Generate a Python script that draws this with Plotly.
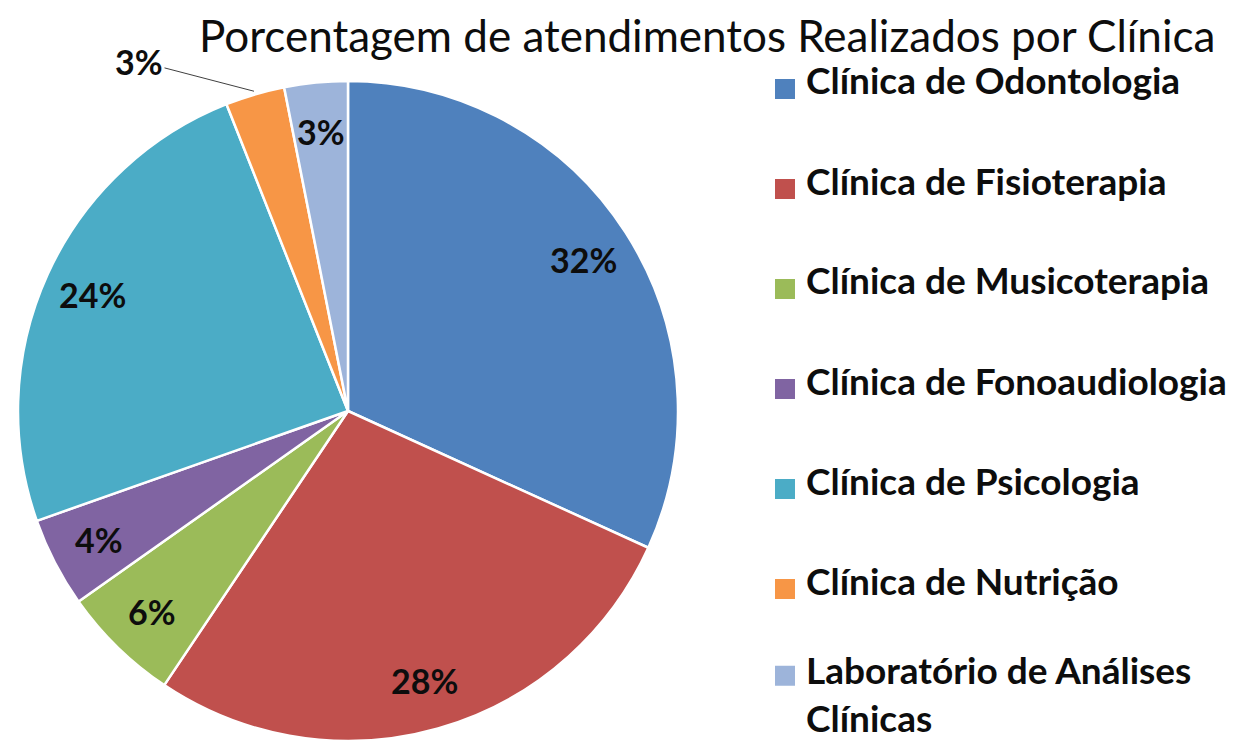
import math
import plotly.graph_objects as go

# ---- data ----
labels = [
    "Clínica de Odontologia",
    "Clínica de Fisioterapia",
    "Clínica de Musicoterapia",
    "Clínica de Fonoaudiologia",
    "Clínica de Psicologia",
    "Clínica de Nutrição",
    "Laboratório de Análises<br>Clínicas",
]
values = [31.8, 27.6, 5.8, 4.4, 24.4, 2.9, 3.1]
colors = ["#4F81BD", "#C0504D", "#9BBB59", "#8064A2", "#4BACC6", "#F79646", "#9DB4DA"]
title_text = "Porcentagem de atendimentos Realizados por Clínica"
outside_label = [False, False, False, False, False, True, False]

# ---- geometry (page pixels) ----
PAGE_W, PAGE_H = 1241, 743
OFF = 8  # default body margin of the html page
W, H = PAGE_W - OFF, PAGE_H - OFF
CX, CY, R = 348, 411, 330
FONT = "Lato"
TXT = "#0D0D0D"


def px_to_paper(x, y):
    return (x - OFF) / W, 1 - (y - OFF) / H


fig = go.Figure()
dx0, dy0 = px_to_paper(CX - R, CY + R)
dx1, dy1 = px_to_paper(CX + R, CY - R)
fig.add_trace(go.Pie(
    labels=labels,
    values=values,
    sort=False,
    direction="clockwise",
    rotation=0,
    marker=dict(colors=colors, line=dict(color="white", width=2.5)),
    textinfo="none",
    hoverinfo="label+percent",
    showlegend=False,
    domain=dict(x=[dx0, dx1], y=[dy0, dy1]),
))

annotations = []
total = sum(values)
cum = 0.0
for lab, v, out in zip(labels, values, outside_label):
    mid = (cum + v / 2) / total * 2 * math.pi
    cum += v
    pct = f"{round(v / total * 100):.0f}%"
    if out:
        tx, ty = px_to_paper(CX + R * 1.01 * math.sin(mid), CY - R * 1.01 * math.cos(mid))
        annotations.append(dict(
            x=tx, y=ty, xref="paper", yref="paper", text=pct,
            showarrow=True, arrowhead=0, arrowwidth=1, arrowcolor="#404040",
            ax=-115, ay=-30, xanchor="center", yanchor="middle",
            font=dict(family=FONT, size=34, color=TXT, weight="bold"),
        ))
    else:
        rr = 0.85 * R
        tx, ty = px_to_paper(CX + rr * math.sin(mid), CY - rr * math.cos(mid))
        annotations.append(dict(
            x=tx, y=ty, xref="paper", yref="paper", text=pct, showarrow=False,
            xanchor="center", yanchor="middle",
            font=dict(family=FONT, size=34, color=TXT, weight="bold"),
        ))

# ---- custom legend ----
LEG_X_SQ, LEG_X_TXT = 775, 804
LEG_Y0, LEG_STEP, LINE_H = 80, 100, 53
shapes = []
block_c = LEG_Y0
for i, (lab, col) in enumerate(zip(labels, colors)):
    nlines = lab.count("<br>") + 1
    if i > 0:
        block_c += LEG_STEP + (nlines - 1) * LINE_H / 4
    first_c = block_c - (nlines - 1) * LINE_H / 2
    ax_, ay_ = px_to_paper(LEG_X_TXT, block_c)
    annotations.append(dict(
        x=ax_, y=ay_, xref="paper", yref="paper", text=lab, showarrow=False,
        xanchor="left", yanchor="middle", align="left",
        font=dict(family=FONT, size=37, color=TXT, weight="bold"),
    ))
    sq_c = first_c + 9
    x0, y0 = px_to_paper(LEG_X_SQ, sq_c + 10)
    x1, y1 = px_to_paper(LEG_X_SQ + 20, sq_c - 10)
    shapes.append(dict(type="rect", xref="paper", yref="paper", x0=x0, x1=x1, y0=y0, y1=y1,
                       fillcolor=col, line=dict(width=0)))

tx, _ = px_to_paper(707, 0)
annotations.append(dict(
    x=tx, y=1, xref="paper", yref="paper", text=title_text, showarrow=False,
    xanchor="center", yanchor="top", borderpad=0,
    font=dict(family=FONT, size=44, color=TXT),
))

fig.update_layout(
    width=W, height=H,
    margin=dict(l=0, r=0, t=0, b=0),
    paper_bgcolor="white", plot_bgcolor="white",
    annotations=annotations, shapes=shapes,
)
fig.write_html("out.html")
